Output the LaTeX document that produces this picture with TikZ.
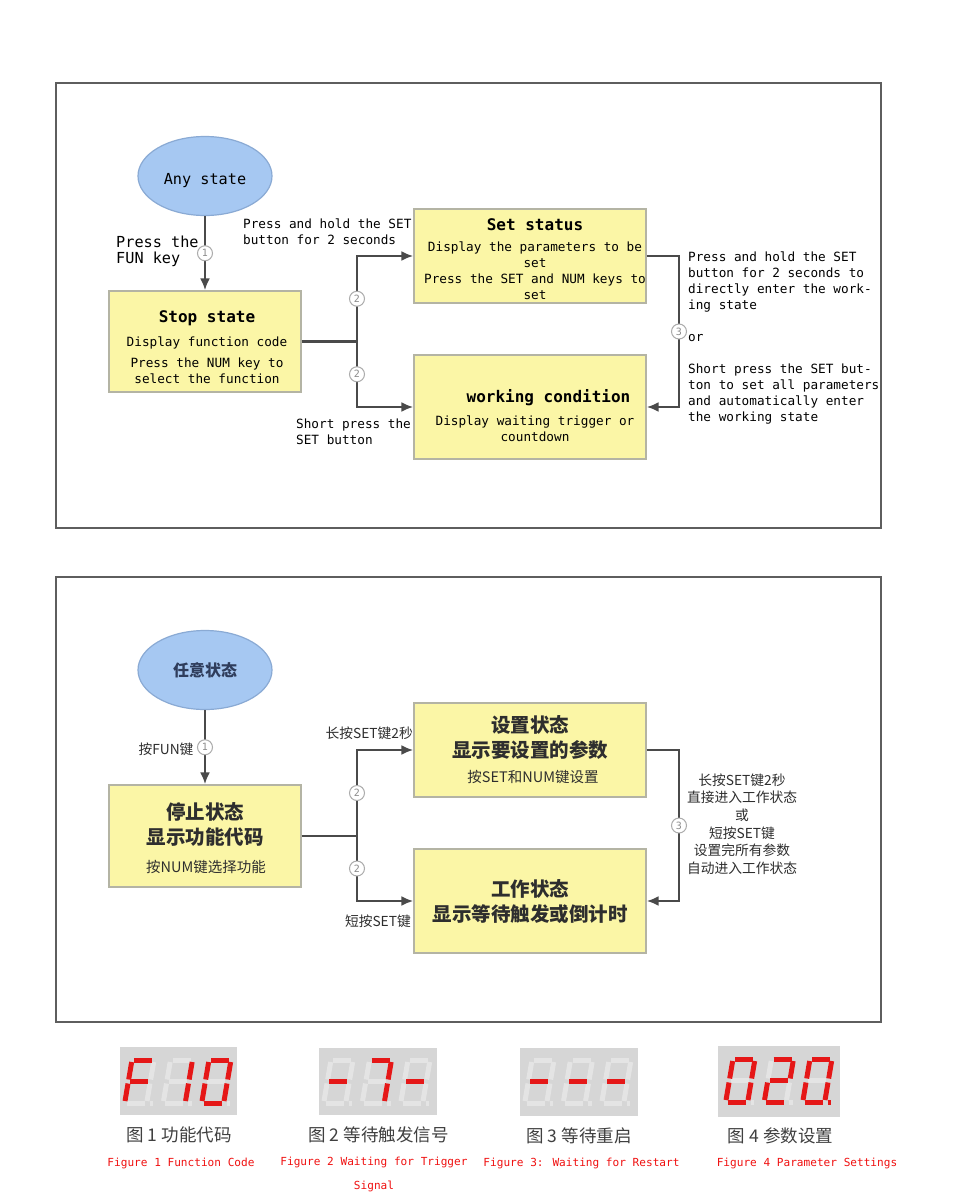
\documentclass[tikz,border=0pt]{standalone}
\usepackage{fontspec}
\usetikzlibrary{arrows.meta,shapes.geometric}
\newfontfamily\enfont{DejaVu Sans Mono}
\newfontfamily\cjk{Noto Sans CJK SC}
\definecolor{boxfill}{HTML}{FBF6A6}
\definecolor{boxline}{HTML}{B4B4A4}
\definecolor{ellfill}{HTML}{A6C8F2}
\definecolor{ellline}{HTML}{8AAAD4}
\definecolor{wiregray}{HTML}{4A4A4A}
\definecolor{panelgray}{HTML}{5E5E5E}
\definecolor{segbg}{HTML}{D6D6D6}
\definecolor{segoff}{HTML}{E4E4E4}
\definecolor{segred}{HTML}{E51717}
\definecolor{capgray}{HTML}{404040}
\definecolor{capred}{HTML}{F01010}
\definecolor{cjkgray}{HTML}{2E2E2E}
\definecolor{navytxt}{HTML}{2F3D5C}
\tikzset{
  panel/.style={draw=panelgray, line width=2pt},
  statebox/.style={draw=boxline, fill=boxfill, line width=1.2pt, inner sep=0pt},
  stateell/.style={ellipse, draw=ellline, fill=ellfill, line width=1.2pt, minimum width=134pt, minimum height=79pt, inner sep=0pt},
  wire/.style={draw=wiregray, line width=2.5pt},
  wirearr/.style={wire, -{Latex[length=12pt,width=10pt]}},
  cnum/.style={circle, draw=gray!65, fill=white, line width=1pt, text=gray!90, minimum size=15pt, inner sep=0pt, font=\enfont\fontsize{10}{10}\selectfont},
  entxt/.style={font=\enfont\fontsize{12.7}{16}\selectfont, inner sep=0pt},
  cnhead/.style={font=\cjk\bfseries\fontsize{19.5}{25}\selectfont, text=cjkgray, inner sep=0pt, align=center},
  cnsmall/.style={font=\cjk\fontsize{14.5}{17}\selectfont, text=cjkgray, inner sep=0pt},
  cnlabel/.style={font=\cjk\fontsize{13.75}{17.6}\selectfont, text=cjkgray, inner sep=0pt, align=center},
  capcn/.style={font=\cjk\fontsize{17.5}{18}\selectfont, text=capgray, inner sep=0pt},
  capen/.style={font=\enfont\fontsize{11.1}{23.5}\selectfont, text=capred, inner sep=0pt},
  segunlit/.style={draw=segoff, line width=5pt},
  seglit/.style={draw=segred, line width=5pt}
}
\newcommand{\segdigit}[3]{%
  \begin{scope}[shift={(#1,#2)}, xslant=0.17]
    \coordinate (a1) at (2,0);     \coordinate (a2) at (20,0);
    \coordinate (b1) at (22,2);    \coordinate (b2) at (22,19.5);
    \coordinate (c1) at (22,23.5); \coordinate (c2) at (22,41);
    \coordinate (d1) at (2,43);    \coordinate (d2) at (20,43);
    \coordinate (e1) at (0,23.5);  \coordinate (e2) at (0,41);
    \coordinate (f1) at (0,2);     \coordinate (f2) at (0,19.5);
    \coordinate (g1) at (2,21.5);  \coordinate (g2) at (20,21.5);
    \coordinate (p1) at (25,43);   \coordinate (p2) at (28.5,43);
    \foreach \s in {a,b,c,d,e,f,g,p} \draw[segunlit] (\s1) -- (\s2);
    \foreach \s in {#3} \draw[seglit] (\s1) -- (\s2);
  \end{scope}}

\begin{document}
\begin{tikzpicture}[x=1pt, y=-1pt]
\useasboundingbox (0,0) rectangle (954,1200);
\fill[white] (0,0) rectangle (954,1200);
\draw[panel] (56,83) rectangle (881,528);
\draw[panel] (56,577) rectangle (881,1022);

\node[stateell, font=\enfont\fontsize{15.2}{16}\selectfont, text height=17pt, text depth=0pt] (D1N0) at (205,176) {Any state};
\node[statebox, minimum width=192pt, minimum height=101pt] (D1N1) at (205,341.5) {};
\node[statebox, minimum width=232pt, minimum height=94pt] (D1N2) at (530,256) {};
\node[statebox, minimum width=232pt, minimum height=104pt] (D1N3) at (530,407) {};
\node[entxt, align=center] (D1T1) at (207,347) {{\bfseries\fontsize{16}{16}\selectfont Stop state}\\[8pt]Display function code\\[5pt]Press the NUM key to\\select the function};
\node[entxt, align=center] (D1T2) at (535,259.5) {{\bfseries\fontsize{16}{16}\selectfont Set status}\\[5pt]Display the parameters to be\\set\\Press the SET and NUM keys to\\set};
\node[entxt, align=center] (D1T3) at (535,415.5) {{\bfseries\fontsize{16}{16}\selectfont\hspace*{27pt}working condition}\\[7pt]Display waiting trigger or\\countdown};
\coordinate (D1J) at (357,341.5);
\coordinate (D1JU) at (357,256);
\coordinate (D1JD) at (357,407);
\coordinate (D1R1) at (679,256);
\coordinate (D1R2) at (679,407);
\draw[wirearr] (D1N0) -- (D1N1) node (D1C1) [midway, cnum] {1};
\draw[wire] (D1N1) -- (D1J);
\draw[wirearr] (D1J) -- (D1JU) node (D1C2) [midway, cnum] {2} -- (D1N2);
\draw[wirearr] (D1J) -- (D1JD) node (D1C3) [midway, cnum] {2} -- (D1N3);
\draw[wirearr] (D1N2) -- (D1R1) -- (D1R2) node (D1C4) [midway, cnum] {3} -- (D1N3);
\node[entxt, font=\enfont\fontsize{15.2}{16}\selectfont, align=left, anchor=west] (D1L1) at (116,251) {Press the\\FUN key};
\node[entxt, align=left, anchor=west] (D1L2) at (243,231.5) {Press and hold the SET\\button for 2 seconds};
\node[entxt, align=left, anchor=west] (D1L3) at (296,432) {Short press the\\SET button};
\node[entxt, align=left, anchor=west] (D1L4) at (688,338) {Press and hold the SET\\button for 2 seconds to\\directly enter the work-\\ing state\\[16pt]or\\[16pt]Short press the SET but-\\ton to set all parameters\\and automatically enter\\the working state};

\node[stateell, font=\cjk\bfseries\fontsize{16}{16}\selectfont, text=navytxt] (D2N0) at (205,670) {任意状态};
\node[statebox, minimum width=192pt, minimum height=102pt] (D2N1) at (205,836) {};
\node[statebox, minimum width=232pt, minimum height=94pt] (D2N2) at (530,750) {};
\node[statebox, minimum width=232pt, minimum height=104pt] (D2N3) at (530,901) {};
\node[cnhead] (D2T1) at (205,824) {停止状态\\显示功能代码};
\node[cnsmall] (D2T1b) at (206,867) {按NUM键选择功能};
\node[cnhead] (D2T2) at (530,737.5) {设置状态\\显示要设置的参数};
\node[cnsmall] (D2T2b) at (533,777) {按SET和NUM键设置};
\node[cnhead] (D2T3) at (530,901.5) {工作状态\\显示等待触发或倒计时};
\coordinate (D2J) at (357,836);
\coordinate (D2JU) at (357,750);
\coordinate (D2JD) at (357,901);
\coordinate (D2R1) at (679,750);
\coordinate (D2R2) at (679,901);
\draw[wirearr] (D2N0) -- (D2N1) node (D2C1) [midway, cnum] {1};
\draw[wire] (D2N1) -- (D2J);
\draw[wirearr] (D2J) -- (D2JU) node (D2C2) [midway, cnum] {2} -- (D2N2);
\draw[wirearr] (D2J) -- (D2JD) node (D2C3) [midway, cnum] {2} -- (D2N3);
\draw[wirearr] (D2N2) -- (D2R1) -- (D2R2) node (D2C4) [midway, cnum] {3} -- (D2N3);
\node[cnlabel] (D2L1) at (166,749) {按FUN键};
\node[cnlabel, anchor=east] (D2L2) at (413,733) {长按SET键2秒};
\node[cnlabel, anchor=east] (D2L3) at (411,921) {短按SET键};
\node[cnlabel] (D2L4) at (742,824) {长按SET键2秒\\直接进入工作状态\\或\\短按SET键\\设置完所有参数\\自动进入工作状态};

\fill[segbg] (120,1047) rectangle (237,1115);
\segdigit{132}{1060}{a,e,f,g}
\segdigit{170.5}{1060}{b,c}
\segdigit{209}{1060}{a,b,c,d,e,f}
\fill[segbg] (319,1048) rectangle (437,1115);
\segdigit{331}{1060}{g}
\segdigit{369.5}{1060}{a,b,c}
\segdigit{408}{1060}{g}
\fill[segbg] (520,1048) rectangle (638,1116);
\segdigit{532}{1060}{g}
\segdigit{570.5}{1060}{g}
\segdigit{609}{1060}{g}
\fill[segbg] (718,1046) rectangle (840,1117);
\segdigit{733}{1059}{a,b,c,d,e,f}
\segdigit{771.5}{1059}{a,b,g,e,d}
\segdigit{810}{1059}{a,b,c,d,e,f,p}
\node[capcn] (F1C) at (179,1135) {图 1 功能代码};
\node[capen] (F1E) at (181,1163) {Figure 1 Function Code};
\node[capcn] (F2C) at (378.5,1135) {图 2 等待触发信号};
\node[capen, align=center] (F2E) at (374,1174.5) {Figure 2 Waiting for Trigger\\Signal};
\node[capcn] (F3C) at (579,1136) {图 3 等待重启};
\node[capen] (F3E) at (581.5,1163) {Figure 3: Waiting for Restart};
\node[capcn] (F4C) at (780.5,1136) {图 4 参数设置};
\node[capen] (F4E) at (807,1163) {Figure 4 Parameter Settings};
\end{tikzpicture}
\end{document}
